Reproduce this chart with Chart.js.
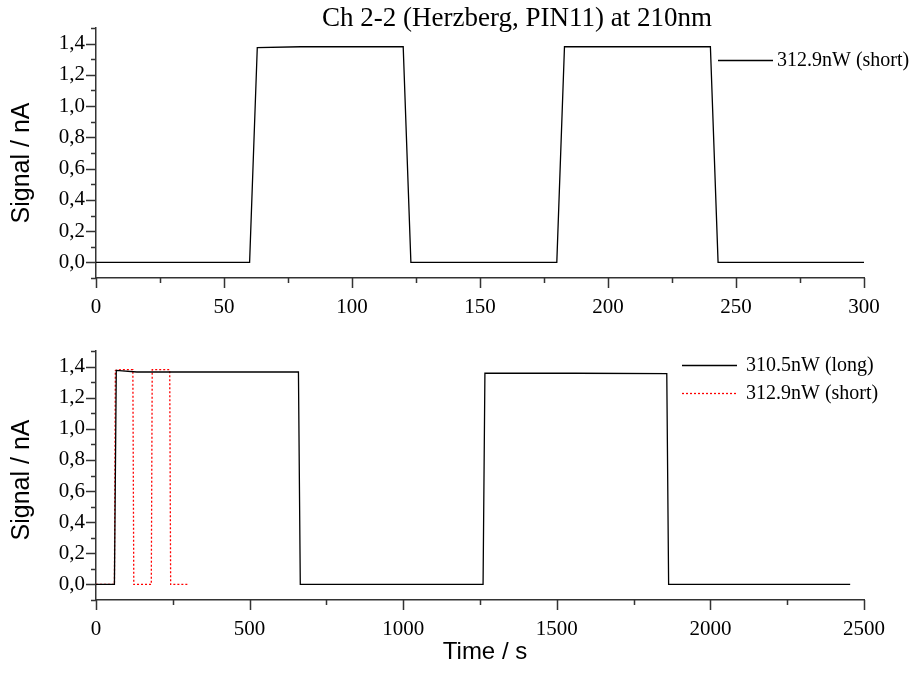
<!DOCTYPE html>
<html>
<head>
<meta charset="utf-8">
<script src="https://cdn.jsdelivr.net/npm/chart.js@4.4.0/dist/chart.umd.min.js"></script>
<style>
  html, body { margin: 0; padding: 0; background: #fff; }
  #wrap { position: relative; width: 917px; height: 675px; }
  #wrap canvas { position: absolute; left: 0; top: 0; }
</style>
</head>
<body>
<div id="wrap">
  <canvas id="top-chart" width="917" height="675"></canvas>
  <canvas id="bottom-chart" width="917" height="675"></canvas>
</div>
<script>
// Ch 2-2 (Herzberg, PIN11) at 210nm — short run on top, long run vs short run below

// short run, 312.9nW
const shortTime   = [0, 60, 63, 80, 120, 123, 180, 183, 240, 243, 300];
const shortSignal = [0, 0, 1.375, 1.38, 1.38, 0, 0, 1.38, 1.38, 0, 0];

// long run, 310.5nW
const longTime   = [0, 60, 66, 133, 400, 659, 665, 1260, 1266, 1560, 1858, 1864, 2455];
const longSignal = [0, 0, 1.375, 1.365, 1.365, 1.365, 0, 0, 1.357, 1.357, 1.355, 0, 0];

const yMin = -0.1, yMax = 1.5, yStep = 0.1;
const topXMax = 300, topXStep = 25;
const bottomXMax = 2500, bottomXStep = 250;

const AXIS = '#333';
const SERIF = '"Liberation Serif", "Times New Roman", serif';
const SANS = '"Liberation Sans", Arial, sans-serif';

function pts(xs, ys) {
  return xs.map((x, i) => ({ x: x, y: ys[i] }));
}

// Origin-style ticks: long for labelled ticks, short for the in-between ones
const originTicks = {
  id: 'originTicks',
  afterDraw(chart) {
    const ctx = chart.ctx;
    const ys = chart.scales.y, xs = chart.scales.x;
    const area = chart.chartArea;
    ctx.save();
    ctx.strokeStyle = AXIS;
    ctx.lineWidth = 1.5;
    ctx.beginPath();
    ys.ticks.forEach(t => {
      const major = Math.round(t.value * 10) % 2 === 0;
      const py = Math.round(ys.getPixelForValue(t.value)) + 0.5;
      ctx.moveTo(area.left - (major ? 10 : 5), py);
      ctx.lineTo(area.left, py);
    });
    const step = chart.options.scales.x.ticks.stepSize;
    xs.ticks.forEach(t => {
      const major = Math.round(t.value / step) % 2 === 0;
      const px = Math.round(xs.getPixelForValue(t.value)) + 0.5;
      ctx.moveTo(px, area.bottom);
      ctx.lineTo(px, area.bottom + (major ? 10 : 5));
    });
    ctx.stroke();
    ctx.restore();
  }
};

// titles and the small legend box, drawn where Origin put them
const decor = {
  id: 'decor',
  afterDraw(chart, args, opts) {
    const ctx = chart.ctx;
    ctx.save();
    ctx.fillStyle = '#000';
    if (opts.title) {
      ctx.font = '27px ' + SERIF;
      ctx.textAlign = 'center';
      ctx.textBaseline = 'middle';
      ctx.fillText(opts.title, 517, 19);
    }
    if (opts.yTitle) {
      ctx.save();
      ctx.translate(22, opts.yTitleY);
      ctx.rotate(-Math.PI / 2);
      ctx.font = '25px ' + SANS;
      ctx.textAlign = 'center';
      ctx.textBaseline = 'middle';
      ctx.fillText(opts.yTitle, 0, 0);
      ctx.restore();
    }
    if (opts.xTitle) {
      ctx.font = '24px ' + SANS;
      ctx.textAlign = 'center';
      ctx.textBaseline = 'middle';
      ctx.fillText(opts.xTitle, 485, 652);
    }
    // legend entries from the datasets
    const lg = opts.legend;
    if (lg) {
      chart.data.datasets.forEach((ds, i) => {
        const y = lg.y + i * lg.gap;
        ctx.save();
        ctx.strokeStyle = ds.borderColor;
        ctx.lineWidth = ds.borderWidth;
        ctx.setLineDash(ds.borderDash || []);
        ctx.beginPath();
        ctx.moveTo(lg.x, y + 0.5);
        ctx.lineTo(lg.x + 55, y + 0.5);
        ctx.stroke();
        ctx.restore();
        ctx.font = '20px ' + SERIF;
        ctx.textAlign = 'left';
        ctx.textBaseline = 'middle';
        ctx.fillStyle = '#000';
        ctx.fillText(ds.label, lg.textX, y + 1);
      });
    }
    ctx.restore();
  }
};

function yScale() {
  return {
    type: 'linear',
    min: yMin,
    max: yMax,
    afterFit: s => { s.width = 96; },
    grid: { display: false, drawTicks: false },
    border: { display: true, color: AXIS, width: 1.5 },
    ticks: {
      stepSize: yStep,
      autoSkip: false,
      padding: 11,
      color: '#000',
      font: { family: SERIF, size: 21 },
      callback: v => {
        const k = Math.round(v * 10);
        if (k < 0 || k > 14 || k % 2 !== 0) return '';
        return (k / 10).toFixed(1).replace('.', ',');
      }
    }
  };
}

function xScale(max, step, height) {
  return {
    type: 'linear',
    min: 0,
    max: max,
    afterFit: s => { s.height = height; },
    grid: { display: false, drawTicks: false },
    border: { display: true, color: AXIS, width: 1.5 },
    ticks: {
      stepSize: step,
      autoSkip: false,
      maxRotation: 0,
      padding: 17,
      color: '#000',
      font: { family: SERIF, size: 21 },
      callback: v => (Math.round(v / step) % 2 === 0 ? String(v) : '')
    }
  };
}

function baseOptions(padTop, xMax, xStep, xHeight, decorOpts) {
  return {
    responsive: false,
    animation: false,
    devicePixelRatio: 1,
    layout: { padding: { top: padTop, right: 53, left: 0, bottom: 0 } },
    elements: { point: { radius: 0 }, line: { tension: 0 } },
    scales: {
      x: xScale(xMax, xStep, xHeight),
      y: yScale()
    },
    plugins: {
      legend: { display: false },
      title: { display: false },
      tooltip: { enabled: false },
      decor: decorOpts
    }
  };
}

new Chart(document.getElementById('top-chart'), {
  type: 'line',
  data: {
    datasets: [{
      label: '312.9nW (short)',
      data: pts(shortTime, shortSignal),
      borderColor: '#000',
      borderWidth: 1.3
    }]
  },
  options: baseOptions(28, topXMax, topXStep, 675 - 278, {
    title: 'Ch 2-2 (Herzberg, PIN11) at 210nm',
    yTitle: 'Signal / nA',
    yTitleY: 163,
    legend: { x: 718, textX: 777, y: 60, gap: 28 }
  }),
  plugins: [originTicks, decor]
});

new Chart(document.getElementById('bottom-chart'), {
  type: 'line',
  data: {
    datasets: [{
      label: '310.5nW (long)',
      data: pts(longTime, longSignal),
      borderColor: '#000',
      borderWidth: 1.3
    }, {
      label: '312.9nW (short)',
      data: pts(shortTime, shortSignal),
      borderColor: '#ff0000',
      borderWidth: 1.3,
      borderDash: [2, 2]
    }]
  },
  options: baseOptions(351, bottomXMax, bottomXStep, 675 - 600, {
    yTitle: 'Signal / nA',
    yTitleY: 480,
    xTitle: 'Time / s',
    legend: { x: 682, textX: 746, y: 365, gap: 28 }
  }),
  plugins: [originTicks, decor]
});
</script>
</body>
</html>
